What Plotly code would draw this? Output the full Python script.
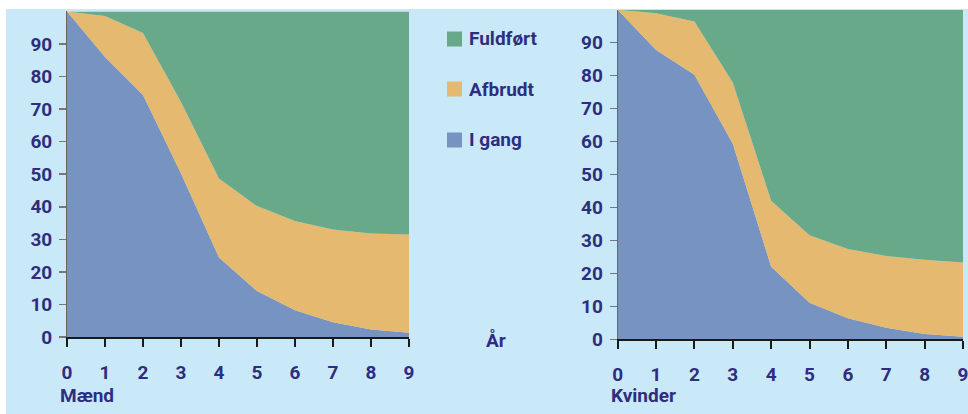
import plotly.graph_objects as go

W, H = 968, 414
FIG_W = 980  # slightly wider than window so the last tick label is not hidden

years = [0, 1, 2, 3, 4, 5, 6, 7, 8, 9]
y_ticks = [0, 10, 20, 30, 40, 50, 60, 70, 80, 90]

# Mænd (percent shares)
maend_i_gang = [100, 86.0, 74.3, 50.2, 24.4, 14.1, 8.2, 4.5, 2.3, 1.3]
maend_afbrudt = [0, 12.6, 19.1, 22.0, 24.3, 26.1, 27.4, 28.5, 29.5, 30.2]
maend_fuldfoert = [0, 1.4, 6.6, 27.8, 51.3, 59.8, 64.4, 67.0, 68.2, 68.5]

# Kvinder (percent shares)
kvinder_i_gang = [100, 87.8, 80.3, 59.3, 22.0, 11.1, 6.4, 3.5, 1.6, 0.8]
kvinder_afbrudt = [0, 11.1, 16.1, 18.6, 20.0, 20.5, 21.0, 21.8, 22.5, 22.5]
kvinder_fuldfoert = [0, 1.1, 3.6, 22.1, 58.0, 68.4, 72.6, 74.7, 75.9, 76.7]

series_names = ["I gang", "Afbrudt", "Fuldført"]
colors = {"I gang": "#7693c1", "Afbrudt": "#e5b96f", "Fuldført": "#68a98a"}

BG = "#c9e9f8"
TXT = "#2e2d7f"
FONT = "Roboto"
FS = 19

def px_x(p):
    return p / FIG_W

def px_y(p):
    return 1 - p / H

fig = go.Figure()

panels = [
    ("x", "y", [maend_i_gang, maend_afbrudt, maend_fuldfoert], "maend"),
    ("x2", "y2", [kvinder_i_gang, kvinder_afbrudt, kvinder_fuldfoert], "kvinder"),
]
for xa, ya, vals, grp in panels:
    for name, v in zip(series_names, vals):
        fig.add_trace(go.Scatter(
            x=years, y=v, name=name, xaxis=xa, yaxis=ya,
            stackgroup=grp, mode="lines",
            line=dict(width=0, color=colors[name]),
            fillcolor=colors[name], showlegend=False, hoverinfo="skip",
        ))

def xaxis_cfg(domain, anchor):
    return dict(
        domain=domain, anchor=anchor, range=[0, 9], tickvals=years,
        ticks="outside", ticklen=8, tickwidth=2, tickcolor="#1a1a1a",
        showline=True, linecolor="#1a1a1a", linewidth=2,
        showgrid=False, zeroline=False, ticklabelstandoff=9,
        tickfont=dict(family=FONT, size=FS, color=TXT, weight="bold"),
        fixedrange=True,
    )

def yaxis_cfg(domain, anchor):
    return dict(
        domain=domain, anchor=anchor, range=[0, 100], tickvals=y_ticks,
        ticks="outside", ticklen=7, tickwidth=1.5, tickcolor="#777777",
        showline=True, linecolor="#666666", linewidth=1,
        showgrid=False, zeroline=False, ticklabelstandoff=3,
        tickfont=dict(family=FONT, size=FS, color=TXT, weight="bold"),
        fixedrange=True,
    )

fig.update_layout(
    width=FIG_W, height=H,
    margin=dict(l=0, r=0, t=0, b=0, autoexpand=False),
    paper_bgcolor=BG, plot_bgcolor=BG,
    xaxis=xaxis_cfg([px_x(67), px_x(409)], "y"),
    yaxis=yaxis_cfg([px_y(337), px_y(11.4)], "x"),
    xaxis2=xaxis_cfg([px_x(617.7), px_x(963)], "y2"),
    yaxis2=yaxis_cfg([px_y(339.3), px_y(9.7)], "x2"),
    showlegend=False,
)

shapes = [
    # white page margins (top strip and left strip)
    dict(type="rect", xref="paper", yref="paper", x0=0, x1=1, y0=px_y(9), y1=1,
         fillcolor="white", line=dict(width=0), layer="above"),
    dict(type="rect", xref="paper", yref="paper", x0=0, x1=px_x(6), y0=0, y1=1,
         fillcolor="white", line=dict(width=0), layer="above"),
]
annotations = []
legend_items = [("Fuldført", 39), ("Afbrudt", 89), ("I gang", 140)]
for name, cy in legend_items:
    shapes.append(dict(type="rect", xref="paper", yref="paper",
                       x0=px_x(447), x1=px_x(462), y0=px_y(cy + 7.5), y1=px_y(cy - 7.5),
                       fillcolor=colors[name], line=dict(width=0)))
    annotations.append(dict(text=name, xref="paper", yref="paper",
                            x=px_x(467), y=px_y(cy), xanchor="left", yanchor="middle",
                            showarrow=False,
                            font=dict(family=FONT, size=FS, color=TXT, weight="bold")))

for text, x, y in [("År", 484, 340), ("Mænd", 58, 395), ("Kvinder", 609, 395)]:
    annotations.append(dict(text=text, xref="paper", yref="paper",
                            x=px_x(x), y=px_y(y), xanchor="left", yanchor="middle",
                            showarrow=False,
                            font=dict(family=FONT, size=FS, color=TXT, weight="bold")))

fig.update_layout(shapes=shapes, annotations=annotations)

fig.write_html("out.html", config={"displayModeBar": False, "staticPlot": True},
               post_script="document.body.style.margin='0';document.body.style.overflow='hidden';")
